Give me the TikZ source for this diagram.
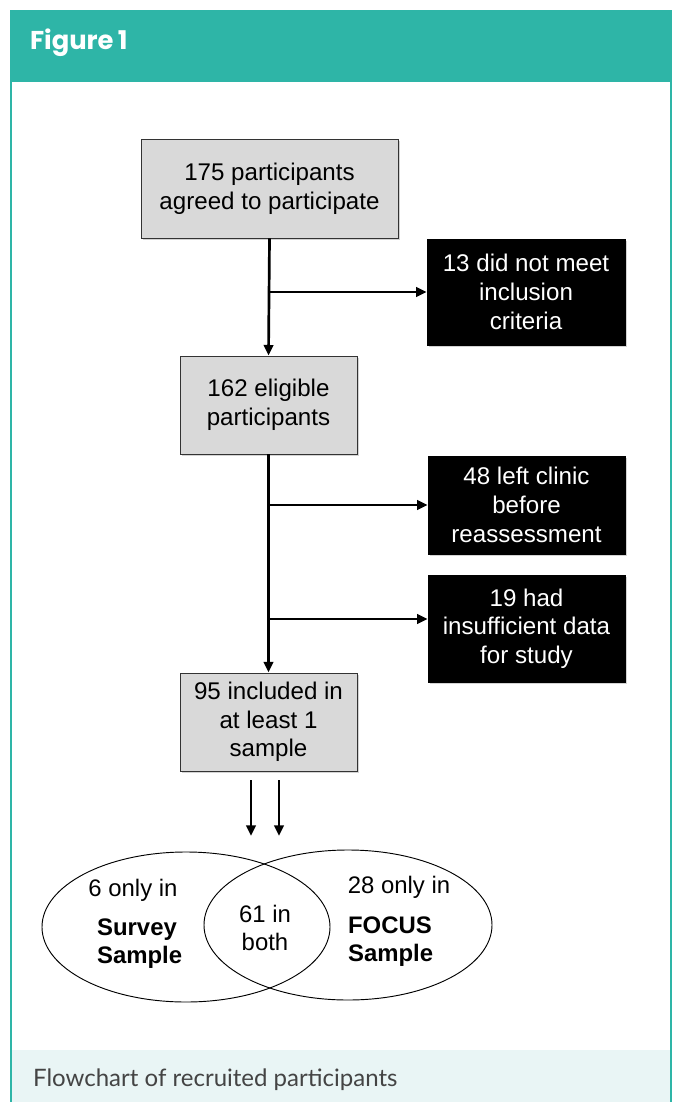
\documentclass[tikz,border=0pt]{standalone}
\usepackage{fontspec}
\setmainfont{Liberation Sans}
\newfontfamily\headfont{Poppins}
\newfontfamily\capfont{Lato}
\usetikzlibrary{arrows.meta,positioning,shapes.geometric,shadows}
\definecolor{figTeal}{RGB}{46,181,167}
\definecolor{figTealLight}{RGB}{233,245,245}
\definecolor{boxGray}{RGB}{217,217,217}
\definecolor{capGray}{RGB}{68,68,68}

\begin{document}
\begin{tikzpicture}[x=0.03cm,y=-0.03cm,
  grayBox/.style={draw=black!80, fill=boxGray, line width=0.8pt, align=center,
    font=\fontsize{20.6}{24.5}\selectfont,
    drop shadow={shadow xshift=1.5pt, shadow yshift=-1.5pt, opacity=0.35}},
  darkBox/.style={draw=black, fill=black, text=white, align=center,
    font=\fontsize{20.6}{24.5}\selectfont,
    drop shadow={shadow xshift=2pt, shadow yshift=-2pt, opacity=0.35}},
  flowArrow/.style={line width=2.3pt, -{Triangle[length=9pt,width=8pt]}},
  vennSet/.style={ellipse, draw, line width=0.8pt, minimum width=8.64cm, minimum height=4.5cm},
  vennText/.style={font=\fontsize{20.4}{24}\selectfont},
  vennBold/.style={font=\fontsize{20.4}{24}\selectfont\bfseries, anchor=west}]
\useasboundingbox (0,0) rectangle (675,1102);

% frame
\fill[figTeal] (10,10) rectangle (672,82);
\fill[figTealLight] (12,1050) rectangle (670,1102);
\draw[figTeal, line width=1.6pt] (11,82) -- (11,1102);
\draw[figTeal, line width=1.6pt] (671,82) -- (671,1102);
\node[anchor=west, text=white, font=\headfont\fontsize{22}{26}\selectfont\bfseries] (figTitle) at (26,43) {Figure\,1};
\node[anchor=west, text=capGray, font=\capfont\fontsize{20.5}{24}\selectfont] (figCaption) at (29,1080) {Flowchart of recruited participants};

% flow boxes
\node[grayBox, minimum width=7.71cm, minimum height=2.97cm] (agreed) at (269.5,188.5) {175 participants\\agreed to participate};
\node[darkBox, minimum width=5.94cm, minimum height=3.18cm] (notMet) at (526,292) {13 did not meet\\inclusion\\criteria};
\node[grayBox, minimum width=5.31cm, minimum height=2.94cm] (eligible) at (268.5,405) {162 eligible\\participants};
\node[darkBox, minimum width=5.91cm, minimum height=2.94cm] (leftClinic) at (526.5,505) {48 left clinic\\before\\reassessment};
\node[darkBox, minimum width=5.91cm, minimum height=3.21cm] (noData) at (526.5,628.5) {19 had\\insufficient data\\for study};
\node[grayBox, minimum width=5.31cm, minimum height=2.94cm] (included) at (268.5,722) {95 included in\\at least 1\\sample};

\draw[flowArrow] (agreed.south) -- (eligible.north);
\draw[flowArrow] (agreed.south |- notMet.west) -- (notMet.west);
\draw[flowArrow] (eligible.south) -- (included.north);
\draw[flowArrow] (eligible.south |- leftClinic.west) -- (leftClinic.west);
\draw[flowArrow] (eligible.south |- 0,619) -- (noData.west |- 0,619);

% venn
\node[vennSet] (survey) at (186,927) {};
\node[vennSet] (focus) at (348,925) {};
\coordinate (toSurvey) at (251,836);
\coordinate (toFocus) at (279,836);
\draw[flowArrow] (included.south -| toSurvey) ++(0,9) -- (toSurvey);
\draw[flowArrow] (included.south -| toFocus) ++(0,9) -- (toFocus);

\node[vennText] (surveyOnly) at (133,890) {6 only in};
\node[vennBold, align=left] (surveyName) at (93,944) {Survey\\Sample};
\node[vennText, align=center] (both) at (265,928) {61 in\\both};
\node[vennText] (focusOnly) at (399,887) {28 only in};
\node[vennBold, align=left] (focusName) at (344,942) {FOCUS\\Sample};
\end{tikzpicture}
\end{document}
